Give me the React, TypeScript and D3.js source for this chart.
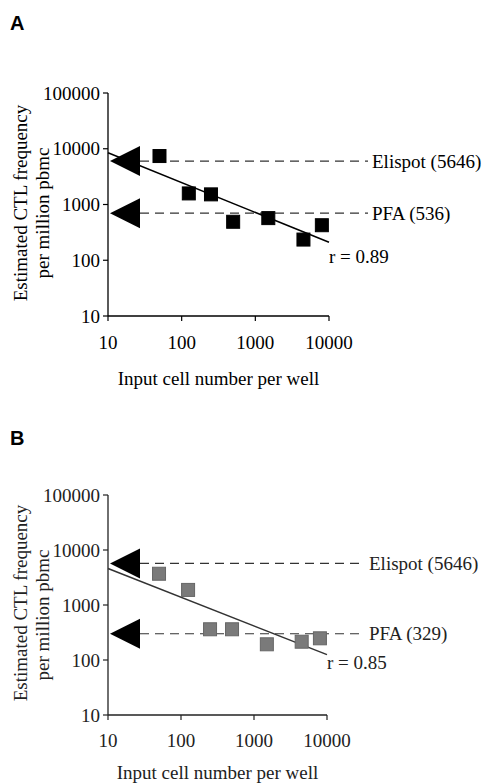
import React from "react";
import * as d3 from "d3";

// ---- data ----
const cellNumbers = [50, 125, 250, 500, 1500, 4500, 8000];
const freqA = [7400, 1580, 1520, 490, 570, 235, 425];
const freqB = [3700, 1880, 362, 362, 193, 215, 248];
const xTicks = [10, 100, 1000, 10000];
const yTicks = [10, 100, 1000, 10000, 100000];
const levelLabelsA = ["Elispot (5646)", "PFA (536)"];
const levelValuesA = [6000, 700];
const levelLabelsB = ["Elispot (5646)", "PFA (329)"];
const levelValuesB = [5700, 300];
const fitXA = [10, 10000];
const fitYA = [8500, 210];
const fitXB = [10, 10000];
const fitYB = [4600, 125];
const rLabelA = "r = 0.89";
const rLabelB = "r = 0.85";

const FONT = "'Liberation Serif', 'Times New Roman', serif";
const FS = 19;

type PanelProps = {
  letter: string;
  letterY: number;
  x0: number; x1: number;
  yTop: number; yBot: number;
  freq: number[];
  levelLabels: string[];
  levelValues: number[];
  fitX: number[];
  fitY: number[];
  rLabel: string;
  rDy: number;
  dashEnd: number;
  tickLabDy: number;
  titleDy: number;
  ytitle1: number; ytitle2: number;
  ink: string;
  markFill: string;
  markStroke: string;
  fitColor: string;
};

function Panel(p: PanelProps) {
  const x = d3.scaleLog().domain([10, 10000]).range([p.x0, p.x1]);
  const y = d3.scaleLog().domain([10, 100000]).range([p.yBot, p.yTop]);
  const line = d3.line<number>().x((_, i) => x(p.fitX[i])).y((v) => y(v));
  const sq = 13;
  const tipX = x(10) + 2;
  const baseX = tipX + 30;
  const endX = x(p.fitX[1]);
  const endY = y(p.fitY[1]);
  return (
    <g>
      <text x={10} y={p.letterY} fontFamily="'Liberation Sans', Arial, sans-serif" fontWeight="bold" fontSize={20} fill="#000">{p.letter}</text>
      {/* axes */}
      <line x1={p.x0} x2={p.x0} y1={p.yTop} y2={p.yBot} stroke={p.ink} strokeWidth={1.3} />
      <line x1={p.x0} x2={p.x1} y1={p.yBot} y2={p.yBot} stroke={p.ink} strokeWidth={1.3} />
      {yTicks.map((t) => (
        <g key={"y" + t}>
          <line x1={p.x0 - 5} x2={p.x0} y1={y(t)} y2={y(t)} stroke={p.ink} strokeWidth={1.2} />
          <text x={p.x0 - 8} y={y(t)} textAnchor="end" dominantBaseline="central" fontFamily={FONT} fontSize={FS} fill={p.ink}>{t}</text>
        </g>
      ))}
      {xTicks.map((t) => (
        <g key={"x" + t}>
          <line x1={x(t)} x2={x(t)} y1={p.yBot} y2={p.yBot + 5} stroke={p.ink} strokeWidth={1.2} />
          <text x={x(t)} y={p.yBot + p.tickLabDy} textAnchor="middle" dominantBaseline="central" fontFamily={FONT} fontSize={FS} fill={p.ink}>{t}</text>
        </g>
      ))}
      <text x={(p.x0 + p.x1) / 2} y={p.yBot + p.titleDy} textAnchor="middle" dominantBaseline="central" fontFamily={FONT} fontSize={FS} fill={p.ink}>Input cell number per well</text>
      <text transform={`translate(20,${p.ytitle1}) rotate(-90)`} textAnchor="middle" dominantBaseline="central" fontFamily={FONT} fontSize={FS} fill={p.ink}>Estimated CTL frequency</text>
      <text transform={`translate(42,${p.ytitle2}) rotate(-90)`} textAnchor="middle" dominantBaseline="central" fontFamily={FONT} fontSize={FS} fill={p.ink}>per million pbmc</text>
      {/* reference levels */}
      {p.levelValues.map((v, i) => (
        <g key={"l" + i}>
          <line x1={baseX} x2={p.dashEnd} y1={y(v)} y2={y(v)} stroke="#333" strokeWidth={1.2} strokeDasharray="9 6" />
          <text x={p.dashEnd + 4} y={y(v)} dominantBaseline="central" fontFamily={FONT} fontSize={FS} fill={p.ink}>{p.levelLabels[i]}</text>
        </g>
      ))}
      {/* fit line */}
      <path d={line(p.fitY) || ""} fill="none" stroke={p.fitColor} strokeWidth={1.5} />
      {/* arrows */}
      {p.levelValues.map((v, i) => (
        <polygon key={"a" + i} points={`${tipX},${y(v)} ${baseX},${y(v) - 15} ${baseX},${y(v) + 15}`} fill="#000" />
      ))}
      {/* points */}
      {cellNumbers.map((c, i) => (
        <rect key={"p" + i} x={x(c) - sq / 2} y={y(p.freq[i]) - sq / 2} width={sq} height={sq} fill={p.markFill} stroke={p.markStroke} strokeWidth={1} />
      ))}
      <text x={endX} y={endY + p.rDy} dominantBaseline="central" fontFamily={FONT} fontSize={FS} fill={p.ink}>{p.rLabel}</text>
    </g>
  );
}

export default function App() {
  return (
    <div style={{ position: "absolute", left: 0, top: 0 }}>
      <svg width={488} height={783} style={{ display: "block", background: "#fff" }}>
        <Panel letter="A" letterY={30} x0={108} x1={329} yTop={93} yBot={316}
          freq={freqA} levelLabels={levelLabelsA} levelValues={levelValuesA}
          fitX={fitXA} fitY={fitYA} rLabel={rLabelA} rDy={14} dashEnd={368}
          tickLabDy={26} titleDy={62} ytitle1={203} ytitle2={213}
          ink="#000" markFill="#000" markStroke="#000" fitColor="#000" />
        <Panel letter="B" letterY={445} x0={108} x1={327} yTop={495} yBot={715}
          freq={freqB} levelLabels={levelLabelsB} levelValues={levelValuesB}
          fitX={fitXB} fitY={fitYB} rLabel={rLabelB} rDy={8} dashEnd={365}
          tickLabDy={25} titleDy={57} ytitle1={603} ytitle2={615}
          ink="#222" markFill="#7a7a7a" markStroke="#666" fitColor="#333" />
      </svg>
    </div>
  );
}
